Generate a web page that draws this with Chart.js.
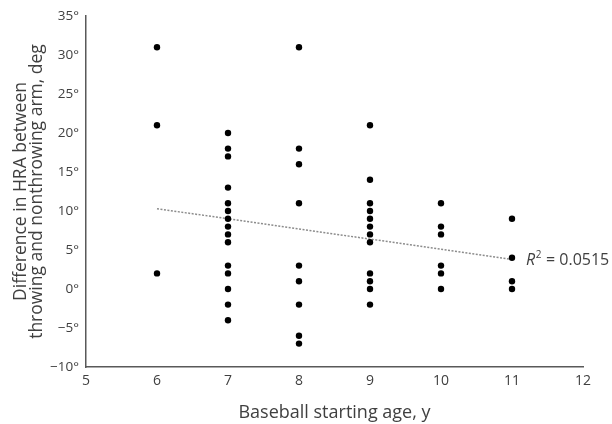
<!DOCTYPE html>
<html>
<head>
<meta charset="utf-8">
<script src="https://cdn.jsdelivr.net/npm/chart.js@4.4.1/dist/chart.umd.min.js"></script>
<style>
  html, body { margin: 0; padding: 0; background: #ffffff; }
  #wrap { position: relative; width: 612px; height: 424px; }
</style>
</head>
<body>
<div id="wrap"><canvas id="c" width="612" height="424"></canvas></div>
<script>
// Baseball starting age (years) and HRA difference (deg)
const startAges = [6, 7, 8, 9, 10, 11];
const diffAge6  = [31, 21, 2];
const diffAge7  = [20, 18, 17, 13, 11, 10, 9, 8, 7, 6, 3, 2, 0, -2, -4];
const diffAge8  = [31, 18, 16, 11, 3, 1, -2, -6, -7];
const diffAge9  = [21, 14, 11, 10, 9, 8, 7, 6, 2, 1, 0, -2];
const diffAge10 = [11, 8, 7, 3, 2, 0];
const diffAge11 = [9, 4, 1, 0];
const diffsByAge = [diffAge6, diffAge7, diffAge8, diffAge9, diffAge10, diffAge11];

// Trend line end points
const trendX = [6, 11];
const trendY = [10.3, 3.8];
const rSquaredText = '0.0515';

const xTicks = [5, 6, 7, 8, 9, 10, 11, 12];
const yTicks = [-10, -5, 0, 5, 10, 15, 20, 25, 30, 35];

const xTitle = 'Baseball starting age, y';
const yTitle = ['Difference in HRA between', 'throwing and nonthrowing arm, deg'];

const points = [];
startAges.forEach((age, i) => diffsByAge[i].forEach(v => points.push({ x: age, y: v })));
const trendPoints = trendX.map((x, i) => ({ x: x, y: trendY[i] }));

const FONT = '"Open Sans", "Noto Sans", sans-serif';
const TXT = '#404040';

const r2Plugin = {
  id: 'r2label',
  afterDraw(chart) {
    const xs = chart.scales.x, ys = chart.scales.y;
    const last = trendPoints[trendPoints.length - 1];
    const px = xs.getPixelForValue(last.x) + 14;
    const py = ys.getPixelForValue(last.y) + 1;
    const ctx = chart.ctx;
    ctx.save();
    ctx.fillStyle = TXT;
    ctx.textBaseline = 'middle';
    ctx.textAlign = 'left';
    ctx.font = 'italic 16px ' + FONT;
    ctx.fillText('R', px, py);
    let w = ctx.measureText('R').width;
    ctx.font = '10px ' + FONT;
    ctx.fillText('2', px + w + 0.5, py - 5);
    w += ctx.measureText('2').width + 1;
    ctx.font = '16px ' + FONT;
    ctx.fillText(' = ' + rSquaredText, px + w, py);
    ctx.restore();
  }
};

new Chart(document.getElementById('c'), {
  type: 'scatter',
  data: {
    datasets: [
      {
        label: 'Difference',
        data: points,
        backgroundColor: '#000000',
        borderColor: '#000000',
        pointRadius: 3.2,
        pointHoverRadius: 3.2,
        borderWidth: 0
      },
      {
        label: 'Trend',
        type: 'line',
        data: trendPoints,
        borderColor: '#8c8c8c',
        borderWidth: 1.5,
        borderDash: [2, 1.5],
        pointRadius: 0,
        fill: false
      }
    ]
  },
  options: {
    responsive: false,
    animation: false,
    devicePixelRatio: 1,
    layout: { padding: { top: 16, right: 29, left: 0, bottom: 0 } },
    plugins: {
      legend: { display: false },
      tooltip: { enabled: false }
    },
    scales: {
      x: {
        type: 'linear',
        min: 5, max: 12,
        afterBuildTicks: s => { s.ticks = xTicks.map(v => ({ value: v })); },
        afterFit: s => { s.height = 57; },
        grid: { display: false, drawTicks: false },
        border: { display: true, color: '#595959', width: 1.5 },
        ticks: { color: TXT, font: { family: FONT, size: 14 }, padding: 6, maxRotation: 0 },
        title: { display: true, text: xTitle, color: TXT, font: { family: FONT, size: 18 }, padding: { top: 4, bottom: 0 } }
      },
      y: {
        type: 'linear',
        min: -10, max: 35,
        afterBuildTicks: s => { s.ticks = yTicks.map(v => ({ value: v })); },
        afterFit: s => { s.width = 86; },
        grid: { display: false, drawTicks: false },
        border: { display: true, color: '#595959', width: 1.5 },
        ticks: {
          color: TXT, font: { family: FONT, size: 13.5 }, padding: 7,
          callback: v => (v < 0 ? '\u2212' + Math.abs(v) : v) + '\u00b0'
        },
        title: { display: true, text: yTitle, color: TXT, font: { family: FONT, size: 17.5, lineHeight: 0.93 }, padding: { top: 13, bottom: 0 } }
      }
    }
  },
  plugins: [r2Plugin]
});
</script>
</body>
</html>
